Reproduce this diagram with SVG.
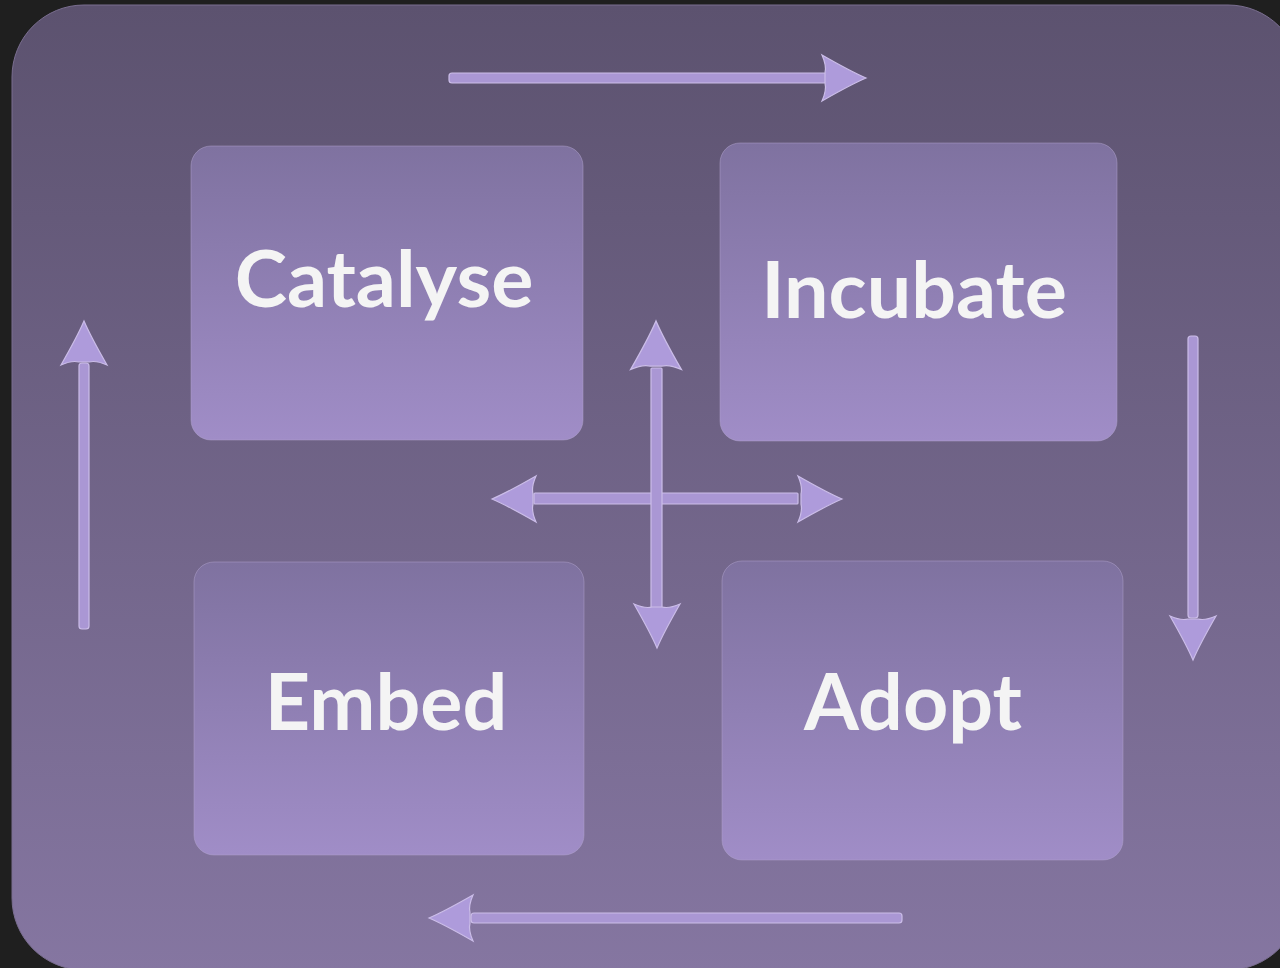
<svg xmlns="http://www.w3.org/2000/svg" xmlns:xlink="http://www.w3.org/1999/xlink" width="1280" height="968" viewBox="0 0 1280 968">
<defs>
<linearGradient id="bg" x1="0" y1="0" x2="0" y2="1">
<stop offset="0" stop-color="#5c526f"/>
<stop offset="1" stop-color="#8576a1"/>
</linearGradient>
<linearGradient id="box" x1="0" y1="0" x2="0" y2="1">
<stop offset="0" stop-color="#7f72a0"/>
<stop offset="1" stop-color="#a08dc7"/>
</linearGradient>
<path id="head" d="M0 0 C-14 -6 -30 -15 -44 -23 C-40 -14 -40 -9 -41 -5 L-41 5 C-40 9 -40 14 -44 23 C-30 15 -14 6 0 0 Z"/>
<style>
.box{fill:url(#box);stroke:#b0a2cc;stroke-opacity:0.5;stroke-width:1}
.lbl{font-family:Lato,"Open Sans","DejaVu Sans",sans-serif;font-weight:700;font-size:79px;fill:#f4f4f4;text-anchor:middle}
.shaft{fill:#aa97d4;stroke:#cbbde8;stroke-width:1.2}
.hd{fill:#ae9bdb;stroke:#cbbde8;stroke-width:1.2}
</style>
</defs>
<rect x="0" y="0" width="1280" height="968" fill="#1f1f1f"/>
<rect x="12" y="5" width="1288" height="965" rx="72" fill="url(#bg)" stroke="#7a6e90" stroke-width="1"/>
<g id="catalyse">
<rect class="box" x="191" y="146" width="392" height="294" rx="20"/>
<text class="lbl" x="384" y="307">Catalyse</text>
</g>
<g id="incubate">
<rect class="box" x="720" y="143" width="397" height="298" rx="20"/>
<text class="lbl" x="914" y="318">Incubate</text>
</g>
<g id="embed">
<rect class="box" x="194" y="562" width="390" height="293" rx="20"/>
<text class="lbl" x="386" y="730">Embed</text>
</g>
<g id="adopt">
<rect class="box" x="722" y="561" width="401" height="299" rx="20"/>
<text class="lbl" x="913" y="730">Adopt</text>
</g>
<g id="connectors">
<rect class="shaft" x="449" y="73" width="378" height="10" rx="3"/>
<use xlink:href="#head" class="hd" transform="translate(866,78)"/>
<rect class="shaft" x="1188" y="336" width="10" height="282" rx="3"/>
<use xlink:href="#head" class="hd" transform="translate(1193,660) rotate(90)"/>
<rect class="shaft" x="471" y="913" width="431" height="10" rx="3"/>
<use xlink:href="#head" class="hd" transform="translate(429,918) rotate(180)"/>
<rect class="shaft" x="79" y="363" width="10" height="266" rx="3"/>
<use xlink:href="#head" class="hd" transform="translate(84,321) rotate(-90)"/>
<rect class="shaft" x="534" y="493" width="264" height="11" rx="1"/>
<use xlink:href="#head" class="hd" transform="translate(842,499)"/>
<use xlink:href="#head" class="hd" transform="translate(492,499) rotate(180)"/>
<rect class="shaft" x="651" y="368" width="11" height="258" rx="1"/>
<use xlink:href="#head" class="hd" transform="translate(656,321) rotate(-90) scale(1.1,1.1)"/>
<use xlink:href="#head" class="hd" transform="translate(657,648) rotate(90)"/>
</g>
</svg>
